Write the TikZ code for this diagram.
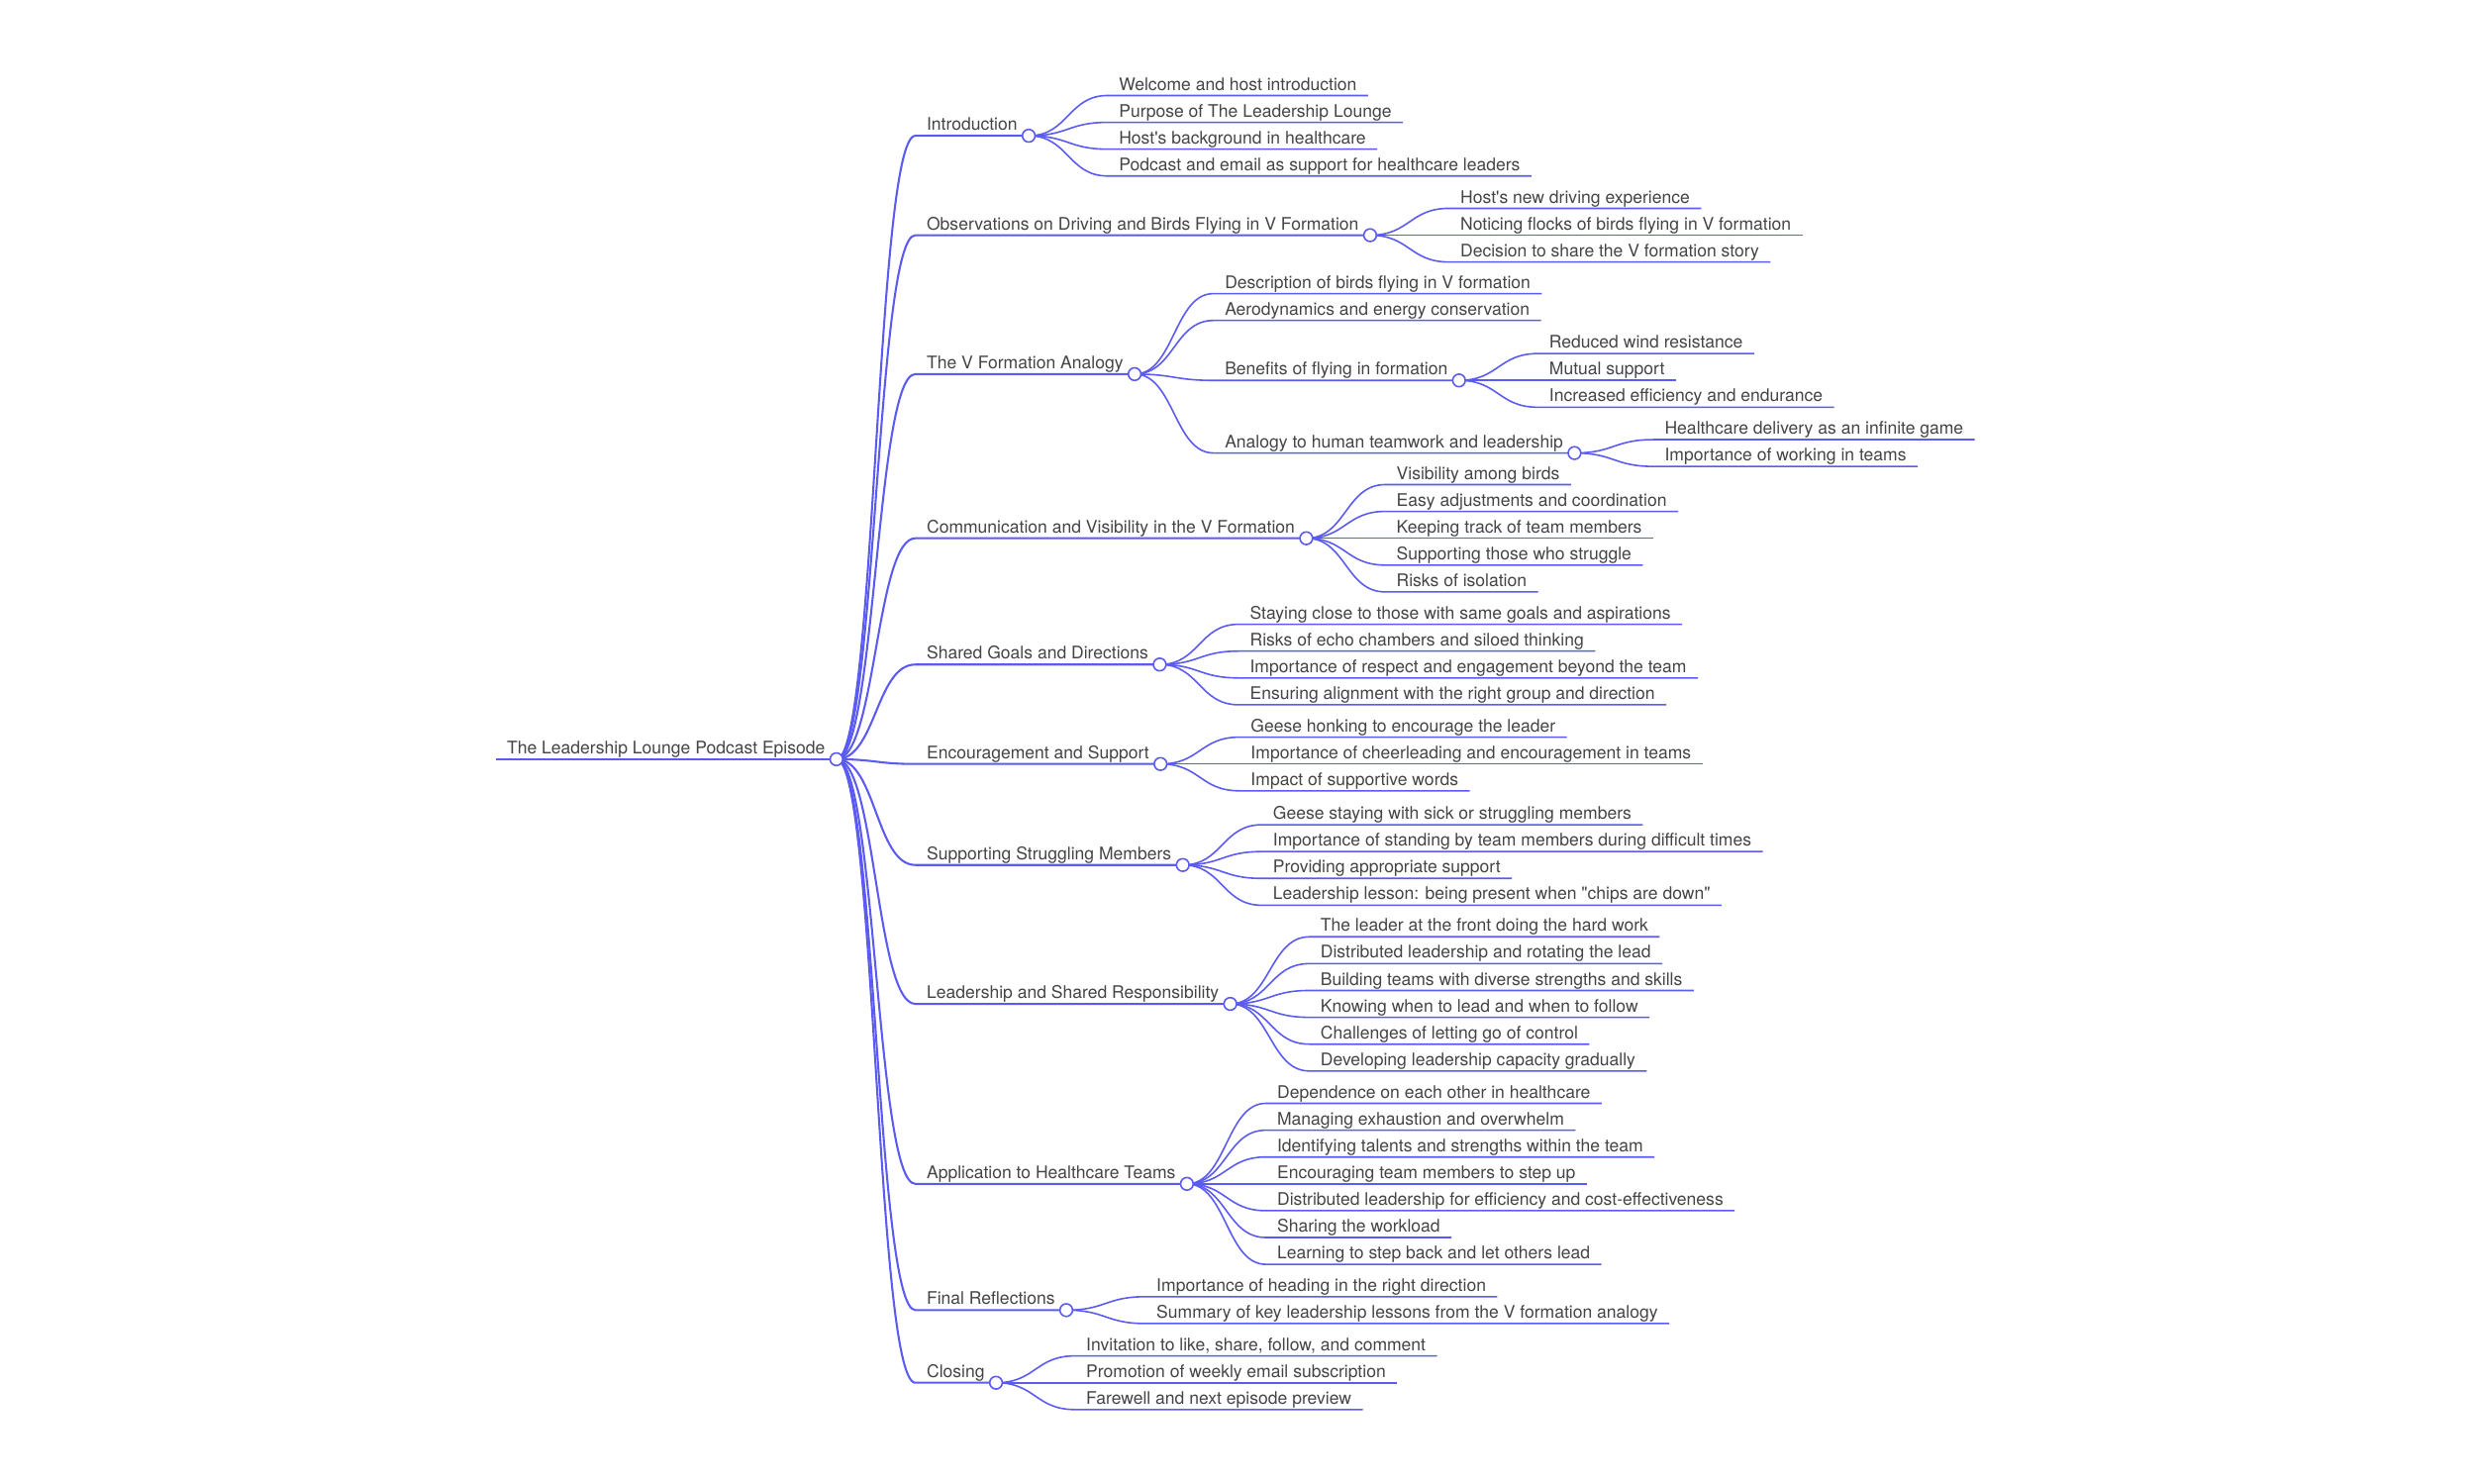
\documentclass[tikz,border=0pt]{standalone}
\usepackage{fontspec}
\setmainfont{TeX Gyre Heros}[Ligatures=TeXOff]
\usepackage{tikz}
\usetikzlibrary{positioning,calc}
\definecolor{linkblue}{HTML}{5B5BF2}
\definecolor{textgray}{HTML}{444444}

\begin{document}
\begin{tikzpicture}[x=1pt,y=-1pt,
    every node/.style={font=\fontsize{11}{13}\selectfont,text=textgray},
    topic/.style={anchor=south west,inner xsep=7pt,inner ysep=1.2pt,text height=8pt,text depth=2pt},
    link/.style={draw=linkblue,line width=1pt},
    mainlink/.style={draw=linkblue,line width=1.3pt},
    knot/.style={fill=white,draw=linkblue,line width=1pt}]
      \useasboundingbox (0,0) rectangle (1568,940);
      % Root
      \node[topic] (root) at (314,481) {The Leadership Lounge Podcast Episode};
      \draw[mainlink] (root.south west) -- (root.south east);
      % Main topics
      \foreach \nm/\y/\txt in {intro/86/Introduction,
          obs/149/Observations on Driving and Birds Flying in V Formation,
          vform/237/The V Formation Analogy,
          comm/341/Communication and Visibility in the V Formation,
          goals/421/Shared Goals and Directions,
          encour/484/Encouragement and Support,
          strug/548/Supporting Struggling Members,
          lead/636/Leadership and Shared Responsibility,
          health/750/Application to Healthcare Teams,
          final/830/Final Reflections,
          closing/876/Closing} {
         \node[topic] (\nm) at ($(root.south east)+(50,\y-481)$) {\txt};
         \draw[mainlink] (root.south east) .. controls +(25,0) and +(-25,0) .. (\nm.south west) -- (\nm.south east);
      }
      \filldraw[knot] (root.south east) circle (4pt);
      % Introduction
      \foreach \txt [count=\i] in {Welcome and host introduction,Purpose of The Leadership Lounge,
          Host's background in healthcare,Podcast and email as support for healthcare leaders} {
         \node[topic] (intro-\i) at ($(intro.south east)+(50,17*\i-42.5)$) {\txt};
         \draw[link] (intro.south east) .. controls +(25,0) and +(-25,0) .. (intro-\i.south west) -- (intro-\i.south east);
      }
      \filldraw[knot] (intro.south east) circle (4pt);
      % Observations
      \foreach \txt [count=\i] in {Host's new driving experience,Noticing flocks of birds flying in V formation,
          Decision to share the V formation story} {
         \node[topic] (obs-\i) at ($(obs.south east)+(50,17*\i-34)$) {\txt};
         \draw[link] (obs.south east) .. controls +(25,0) and +(-25,0) .. (obs-\i.south west) -- (obs-\i.south east);
      }
      \filldraw[knot] (obs.south east) circle (4pt);
      % V formation analogy
      \foreach \nm/\dy/\txt in {vform-1/-51/Description of birds flying in V formation,
          vform-2/-34/Aerodynamics and energy conservation,
          benefit/4/Benefits of flying in formation,
          analogy/50/Analogy to human teamwork and leadership} {
         \node[topic] (\nm) at ($(vform.south east)+(50,\dy)$) {\txt};
         \draw[link] (vform.south east) .. controls +(25,0) and +(-25,0) .. (\nm.south west) -- (\nm.south east);
      }
      \filldraw[knot] (vform.south east) circle (4pt);
      \foreach \txt [count=\i] in {Reduced wind resistance,Mutual support,Increased efficiency and endurance} {
         \node[topic] (benefit-\i) at ($(benefit.south east)+(50,17*\i-34)$) {\txt};
         \draw[link] (benefit.south east) .. controls +(25,0) and +(-25,0) .. (benefit-\i.south west) -- (benefit-\i.south east);
      }
      \filldraw[knot] (benefit.south east) circle (4pt);
      \foreach \txt [count=\i] in {Healthcare delivery as an infinite game,Importance of working in teams} {
         \node[topic] (analogy-\i) at ($(analogy.south east)+(50,17*\i-25.5)$) {\txt};
         \draw[link] (analogy.south east) .. controls +(25,0) and +(-25,0) .. (analogy-\i.south west) -- (analogy-\i.south east);
      }
      \filldraw[knot] (analogy.south east) circle (4pt);
      % Communication
      \foreach \txt [count=\i] in {Visibility among birds,Easy adjustments and coordination,Keeping track of team members,
          Supporting those who struggle,Risks of isolation} {
         \node[topic] (comm-\i) at ($(comm.south east)+(50,17*\i-51)$) {\txt};
         \draw[link] (comm.south east) .. controls +(25,0) and +(-25,0) .. (comm-\i.south west) -- (comm-\i.south east);
      }
      \filldraw[knot] (comm.south east) circle (4pt);
      % Shared goals
      \foreach \txt [count=\i] in {Staying close to those with same goals and aspirations,
          Risks of echo chambers and siloed thinking,
          Importance of respect and engagement beyond the team,
          Ensuring alignment with the right group and direction} {
         \node[topic] (goals-\i) at ($(goals.south east)+(50,17*\i-42.5)$) {\txt};
         \draw[link] (goals.south east) .. controls +(25,0) and +(-25,0) .. (goals-\i.south west) -- (goals-\i.south east);
      }
      \filldraw[knot] (goals.south east) circle (4pt);
      % Encouragement
      \foreach \txt [count=\i] in {Geese honking to encourage the leader,
          Importance of cheerleading and encouragement in teams,Impact of supportive words} {
         \node[topic] (encour-\i) at ($(encour.south east)+(50,17*\i-34)$) {\txt};
         \draw[link] (encour.south east) .. controls +(25,0) and +(-25,0) .. (encour-\i.south west) -- (encour-\i.south east);
      }
      \filldraw[knot] (encour.south east) circle (4pt);
      % Struggling members
      \foreach \txt [count=\i] in {Geese staying with sick or struggling members,
          Importance of standing by team members during difficult times,
          Providing appropriate support,
          Leadership lesson: being present when "chips are down"} {
         \node[topic] (strug-\i) at ($(strug.south east)+(50,17*\i-42.5)$) {\txt};
         \draw[link] (strug.south east) .. controls +(25,0) and +(-25,0) .. (strug-\i.south west) -- (strug-\i.south east);
      }
      \filldraw[knot] (strug.south east) circle (4pt);
      % Leadership
      \foreach \txt [count=\i] in {The leader at the front doing the hard work,
          Distributed leadership and rotating the lead,
          Building teams with diverse strengths and skills,
          Knowing when to lead and when to follow,
          Challenges of letting go of control,
          Developing leadership capacity gradually} {
         \node[topic] (lead-\i) at ($(lead.south east)+(50,17*\i-59.5)$) {\txt};
         \draw[link] (lead.south east) .. controls +(25,0) and +(-25,0) .. (lead-\i.south west) -- (lead-\i.south east);
      }
      \filldraw[knot] (lead.south east) circle (4pt);
      % Healthcare teams
      \foreach \txt [count=\i] in {Dependence on each other in healthcare,
          Managing exhaustion and overwhelm,
          Identifying talents and strengths within the team,
          Encouraging team members to step up,
          Distributed leadership for efficiency and cost-effectiveness,
          Sharing the workload,
          Learning to step back and let others lead} {
         \node[topic] (health-\i) at ($(health.south east)+(50,17*\i-68)$) {\txt};
         \draw[link] (health.south east) .. controls +(25,0) and +(-25,0) .. (health-\i.south west) -- (health-\i.south east);
      }
      \filldraw[knot] (health.south east) circle (4pt);
      % Final reflections
      \foreach \txt [count=\i] in {Importance of heading in the right direction,
          Summary of key leadership lessons from the V formation analogy} {
         \node[topic] (final-\i) at ($(final.south east)+(50,17*\i-25.5)$) {\txt};
         \draw[link] (final.south east) .. controls +(25,0) and +(-25,0) .. (final-\i.south west) -- (final-\i.south east);
      }
      \filldraw[knot] (final.south east) circle (4pt);
      % Closing
      \foreach \txt [count=\i] in {{Invitation to like, share, follow, and comment},
          Promotion of weekly email subscription,Farewell and next episode preview} {
         \node[topic] (closing-\i) at ($(closing.south east)+(50,17*\i-34)$) {\txt};
         \draw[link] (closing.south east) .. controls +(25,0) and +(-25,0) .. (closing-\i.south west) -- (closing-\i.south east);
      }
      \filldraw[knot] (closing.south east) circle (4pt);
    \end{tikzpicture}
\end{document}
